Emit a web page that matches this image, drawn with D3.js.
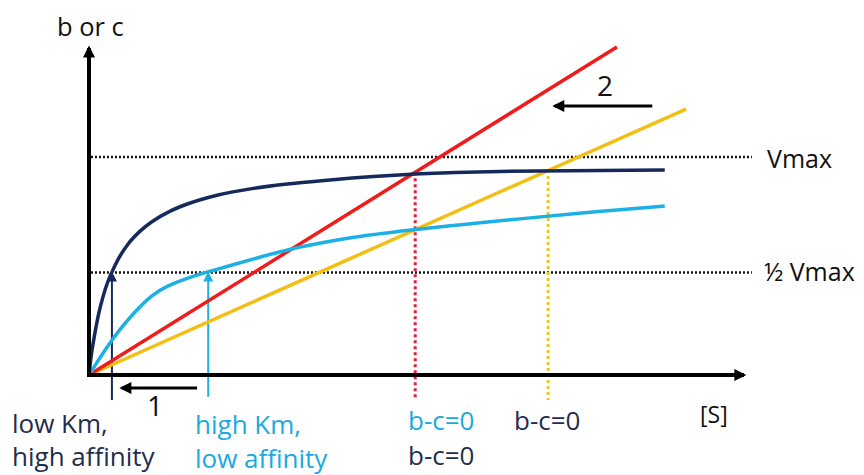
<!DOCTYPE html>
<html><head><meta charset="utf-8">
<script src="https://cdn.jsdelivr.net/npm/d3@7"></script>
<style>body{margin:0;background:#fff}svg{display:block}</style>
</head><body>
<script>
// ---- data (x = [S], y = rate b or c, Vmax = 1) ----
const navyS = [0,0.03,0.08,0.14,0.21,0.29,0.35,0.44,0.60,0.78,0.96,1.24,1.47,1.97,2.49,2.99,3.68,4.98,6.28,8.79];
const navyV = [0,0.08,0.175,0.27,0.355,0.43,0.472,0.528,0.602,0.66,0.703,0.752,0.781,0.826,0.855,0.875,0.895,0.922,0.934,0.94];
const blueS = [0,0.1,0.2,0.35,0.5,0.7,0.96,1.2,1.5,1.8,2.2,2.6,3.11,3.6,4.2,4.98,5.8,6.6,7.5,8.79];
const blueV = [0,0.048,0.094,0.16,0.22,0.29,0.368,0.41,0.445,0.472,0.506,0.54,0.581,0.61,0.64,0.668,0.693,0.717,0.743,0.775];
const redS = [0, 8.06], redV = [0, 1.505];
const yellowS = [0, 9.115], yellowV = [0, 1.22];
const vmax = 1.0, halfVmax = 0.47;
const kmLow = 0.35, kmHigh = 1.82;
const crossRed = [4.98, 0.93], crossYellow = [7.01, 0.94];
const xMax = 10, yMax = 1.5;

const W = 864, H = 475;
const x = d3.scaleLinear().domain([0, xMax]).range([89, 744]);
const y = d3.scaleLinear().domain([0, 1]).range([375, 157]);

const svg = d3.select("body").append("svg").attr("width", W).attr("height", H);
const font = "'Open Sans', sans-serif";
const navy = "#15295a", navyText = "#1f2d4f", blue = "#1cb0e4", blueText = "#1aa9e0", red = "#f01c1c", yellow = "#f2bf12";

const defs = svg.append("defs");
function marker(id, color, w, h) {
  defs.append("marker").attr("id", id).attr("viewBox", "0 0 10 10")
    .attr("refX", 8).attr("refY", 5).attr("markerWidth", w).attr("markerHeight", h)
    .attr("markerUnits", "userSpaceOnUse").attr("orient", "auto")
    .append("path").attr("d", "M0,0 L10,5 L0,10 Z").attr("fill", color);
}
marker("ab", "#000", 14, 12);
marker("an", navy, 10, 10);
marker("al", blue, 10, 10);
marker("as", "#000", 14, 12);

// dotted reference lines
[vmax, halfVmax].forEach(v => {
  svg.append("line").attr("x1", x(0.03)).attr("x2", x(10.12)).attr("y1", y(v)).attr("y2", y(v))
    .attr("stroke", "#111").attr("stroke-width", 2.6).attr("stroke-dasharray", "2,2");
});

// drop lines
svg.append("line").attr("x1", x(crossRed[0])).attr("x2", x(crossRed[0]))
  .attr("y1", y(crossRed[1])).attr("y2", y(-0.105))
  .attr("stroke", "#e3203a").attr("stroke-width", 3).attr("stroke-dasharray", "3,3");
svg.append("line").attr("x1", x(crossYellow[0])).attr("x2", x(crossYellow[0]))
  .attr("y1", y(crossYellow[1])).attr("y2", y(-0.115))
  .attr("stroke", "#f0c81c").attr("stroke-width", 3).attr("stroke-dasharray", "3,3");

// Km arrows
svg.append("line").attr("x1", x(kmLow)).attr("x2", x(kmLow)).attr("y1", y(-0.115)).attr("y2", y(halfVmax) + 1)
  .attr("stroke", navy).attr("stroke-width", 2).attr("marker-end", "url(#an)");
svg.append("line").attr("x1", x(kmHigh)).attr("x2", x(kmHigh)).attr("y1", y(-0.1)).attr("y2", y(halfVmax) + 1)
  .attr("stroke", blue).attr("stroke-width", 2).attr("marker-end", "url(#al)");

// lines
const line = d3.line().x(d => x(d[0])).y(d => y(d[1]));
const curve = d3.line().x(d => x(d[0])).y(d => y(d[1])).curve(d3.curveMonotoneX);
const smooth = d3.line().x(d => x(d[0])).y(d => y(d[1])).curve(d3.curveBasis);
svg.append("path").datum(d3.zip(yellowS, yellowV)).attr("d", line).attr("fill", "none").attr("stroke", yellow).attr("stroke-width", 3.5);
svg.append("path").datum(d3.zip(redS, redV)).attr("d", line).attr("fill", "none").attr("stroke", red).attr("stroke-width", 3.5);
svg.append("path").datum(d3.zip(blueS, blueV)).attr("d", smooth).attr("fill", "none").attr("stroke", blue).attr("stroke-width", 3.5);
svg.append("path").datum(d3.zip(navyS, navyV)).attr("d", curve).attr("fill", "none").attr("stroke", navy).attr("stroke-width", 3.5);

// axes
svg.append("line").attr("x1", x(0)).attr("x2", x(0)).attr("y1", y(0) + 2).attr("y2", y(yMax))
  .attr("stroke", "#000").attr("stroke-width", 4).attr("marker-end", "url(#ab)");
svg.append("line").attr("x1", x(0) - 2).attr("x2", x(xMax)).attr("y1", y(0)).attr("y2", y(0))
  .attr("stroke", "#000").attr("stroke-width", 4).attr("marker-end", "url(#ab)");

// shift arrows
svg.append("line").attr("x1", x(1.65)).attr("x2", x(0.5)).attr("y1", y(-0.06)).attr("y2", y(-0.06))
  .attr("stroke", "#000").attr("stroke-width", 3).attr("marker-end", "url(#as)");
svg.append("line").attr("x1", x(8.6)).attr("x2", x(7.11)).attr("y1", y(1.234)).attr("y2", y(1.234))
  .attr("stroke", "#000").attr("stroke-width", 3).attr("marker-end", "url(#as)");

// texts
function txt(t, tx, ty, color, size, anchor) {
  svg.append("text").attr("x", tx).attr("y", ty).attr("fill", color)
    .attr("font-family", font).attr("font-size", size).attr("text-anchor", anchor || "start").text(t);
}
txt("b or c", 57, 36, "#111", 25.5);
txt("[S]", 700, 423, "#111", 23);
txt("Vmax", 767, 168, "#111", 25);
txt("½ Vmax", 764, 281, "#111", 25);
txt("1", 155, 416, "#111", 28, "middle");
txt("2", 605, 96, "#111", 28, "middle");
txt("low Km,", 12, 433, navyText, 26);
txt("high affinity", 12, 466, navyText, 26);
txt("high Km,", 195, 434, blueText, 26);
txt("low affinity", 195, 468, blueText, 26);
txt("b-c=0", 408, 430, blueText, 26);
txt("b-c=0", 408, 465, navyText, 26);
txt("b-c=0", 514, 430, navyText, 26);
</script>
</body></html>
